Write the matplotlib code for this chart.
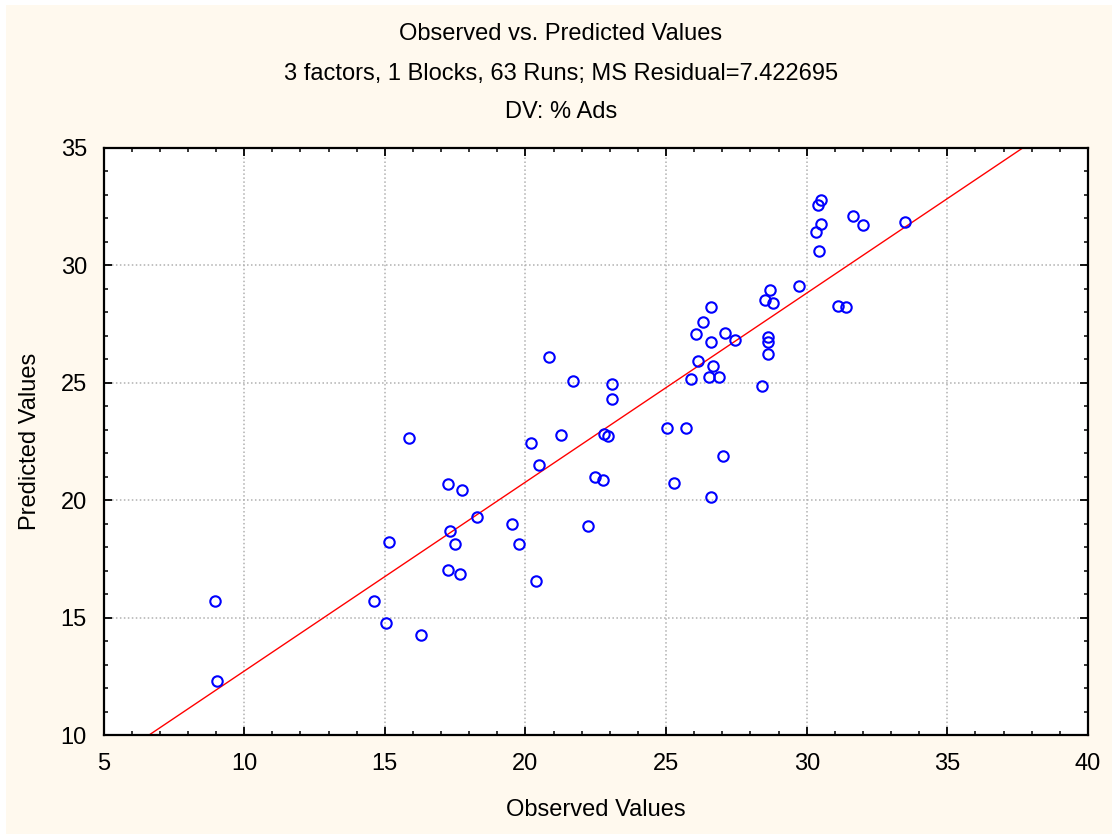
import matplotlib
matplotlib.use("Agg")
import matplotlib.pyplot as plt
import matplotlib.patches as patches
from matplotlib.ticker import MultipleLocator
import numpy as np

plt.rcParams['font.family'] = ['Liberation Sans', 'DejaVu Sans']

# observed / predicted values for the 63 runs
observed = np.array([
    8.95, 9.02, 15.85, 15.14, 14.61, 15.06, 16.28,
    20.21, 21.26, 22.80, 22.95, 25.02, 25.72, 20.47, 17.23, 17.75, 18.29,
    17.32, 17.49, 17.23, 17.66, 19.51, 19.76, 20.37, 22.47, 22.77, 22.21,
    25.28, 26.58, 27.02,
    20.83, 21.69, 23.09, 23.08, 26.59, 26.32, 26.06, 26.58, 27.11, 27.46,
    26.15, 25.90, 26.66, 26.51, 26.87,
    30.51, 30.41, 30.51, 30.34, 30.42, 31.66, 32.01, 33.50, 29.74, 28.68,
    28.50, 28.79, 31.12, 31.40, 28.63, 28.63, 28.63, 28.42,
])
predicted = np.array([
    15.71, 12.30, 22.65, 18.21, 15.71, 14.78, 14.27,
    22.44, 22.77, 22.80, 22.75, 23.09, 23.09, 21.50, 20.67, 20.44, 19.29,
    18.68, 18.14, 17.01, 16.86, 18.98, 18.14, 16.57, 20.97, 20.85, 18.88,
    20.75, 20.13, 21.90,
    26.10, 25.06, 24.95, 24.33, 28.21, 27.59, 27.06, 26.75, 27.13, 26.83,
    25.91, 25.16, 25.70, 25.25, 25.26,
    32.80, 32.58, 31.77, 31.43, 30.60, 32.09, 31.74, 31.86, 29.12, 28.95,
    28.52, 28.38, 28.29, 28.21, 26.94, 26.75, 26.23, 24.86,
])

# fitted line (predicted on observed)
fit_intercept = 4.67
fit_slope = 0.805

title_lines = [
    "Observed vs. Predicted Values",
    "3 factors, 1 Blocks, 63 Runs; MS Residual=7.422695",
    "DV: % Ads",
]

W, H = 1112, 834
fig = plt.figure(figsize=(W / 100, H / 100), dpi=100)
fig.patch.set_facecolor('#FFF9EE')

# thin white margin along the top and left edge
fig.patches.append(patches.Rectangle((0, 1 - 5 / H), 1, 5 / H, transform=fig.transFigure,
                                     facecolor='white', edgecolor='none', zorder=0))
fig.patches.append(patches.Rectangle((0, 0), 6 / W, 1, transform=fig.transFigure,
                                     facecolor='white', edgecolor='none', zorder=0))

ax = fig.add_axes([103.5 / W, 1 - 735 / H, (1088 - 103.5) / W, (735 - 148) / H])
ax.set_facecolor('white')

ax.set_xlim(5, 40)
ax.set_ylim(10, 35)
ax.xaxis.set_major_locator(MultipleLocator(5))
ax.xaxis.set_minor_locator(MultipleLocator(1))
ax.yaxis.set_major_locator(MultipleLocator(5))
ax.yaxis.set_minor_locator(MultipleLocator(1))

ax.grid(True, which='major', color='#b0b0b0', linestyle=(0, (1, 1.6)), linewidth=1.1)
ax.set_axisbelow(True)

for s in ax.spines.values():
    s.set_linewidth(1.6)
    s.set_color('black')

ax.tick_params(which='both', direction='in', top=True, right=True, color='black')
ax.tick_params(which='major', length=5.5, width=1.3, labelsize=17)
ax.tick_params(which='minor', length=3, width=1.1)
ax.tick_params(axis='x', which='major', pad=13)
ax.tick_params(axis='y', which='major', pad=12)

# regression line
ax.axline((0, fit_intercept), slope=fit_slope, color='#ff0000', linewidth=1.0, zorder=2)

ax.plot(observed, predicted, linestyle='none', marker='o', markersize=7.5,
        markerfacecolor='none', markeredgecolor='#0000ff', markeredgewidth=1.5, zorder=3)

ax.set_xlabel("Observed Values", fontsize=17, labelpad=17)
ax.set_ylabel("Predicted Values", fontsize=17, labelpad=14)

for y_px, line in zip([34, 74, 112], title_lines):
    fig.text(561 / W, 1 - y_px / H, line, ha='center', va='center', fontsize=17)

fig.savefig("out.png", dpi=100, facecolor=fig.get_facecolor())
